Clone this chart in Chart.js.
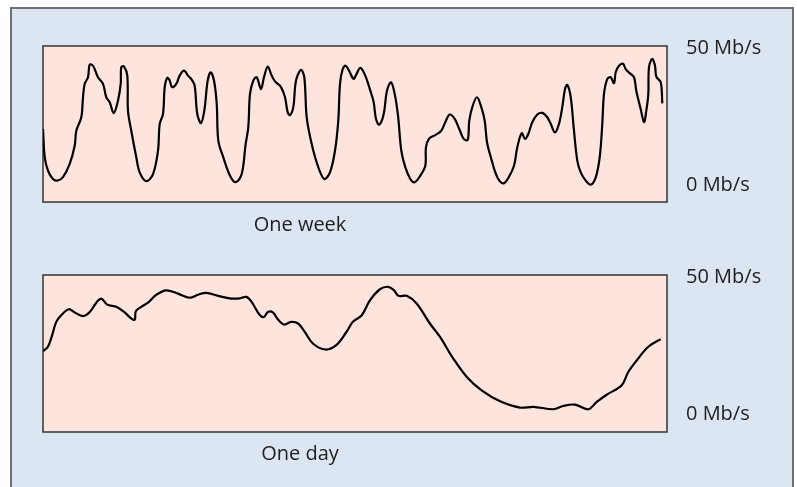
<!DOCTYPE html>
<html>
<head>
<meta charset="utf-8">
<script src="https://cdn.jsdelivr.net/npm/chart.js@4"></script>
<style>
  body { margin: 0; background: #fff; width: 797px; height: 487px; overflow: hidden; position: relative; font-family: 'Open Sans', sans-serif; }
  #marco { position: absolute; left: 10px; top: 7px; width: 784px; height: 500px; box-sizing: border-box; background: #dce6f2; border: 2px solid #6f6f6f; }
  canvas { position: absolute; left: 0; }
  #weekChart { top: 0; }
  #dayChart { top: 229px; }
  .caption { position: absolute; left: 200px; width: 200px; text-align: center; font-size: 20px; line-height: 24px; color: #1e1e1e; }
</style>
</head>
<body>
<div id="marco"></div>
<canvas id="weekChart" width="797" height="215"></canvas>
<canvas id="dayChart" width="797" height="215"></canvas>
<div class="caption" style="top:212px">One week</div>
<div class="caption" style="top:441px">One day</div>
<script>
// Tráfico de una semana (horas desde el inicio, Mb/s)
const weekHours = [0, 0.46, 1.35, 2.69, 3.85, 5.38, 7.19, 8.53, 8.97, 10.31, 10.77, 11.23, 12.12, 12.57, 13.46, 14.81, 16.15, 17.04, 17.96, 19.03,
    20.19, 20.92, 21.08, 21.81, 22.70, 22.88, 23.77, 25.12, 26.03, 27.81, 29.62, 30.96, 31.42, 32.31, 32.77, 33.46, 34.11, 34.73, 35.89, 36.80,
    37.96, 39.04, 40.11, 40.84, 41.54, 42.54, 43.43, 44.34, 45.15, 46.04, 46.77, 47.20, 48.54, 50.35, 51.88, 53.50, 54.57, 55.27, 55.73, 56.62,
    57.53, 58.69, 59.50, 60.50, 61.57, 62.46, 64.08, 65.15, 65.88, 66.50, 67.39, 68.12, 69.46, 70.35, 71.00, 72.34, 74.12, 75.73, 77.27, 78.61,
    79.50, 79.96, 80.69, 81.50, 82.38, 83.60, 84.27, 85.43, 86.77, 88.12, 89.03, 89.65, 90.54, 91.73, 92.61, 93.69, 94.69, 95.58, 96.47, 97.54,
    98.89, 100.07, 101.58, 102.93, 103.11, 104.00, 105.62, 107.23, 108.31, 109.50, 110.84, 112.08, 113.27, 114.34, 114.77, 115.69, 116.85, 118.00, 118.92, 119.54,
    120.70, 121.77, 122.85, 124.03, 125.38, 126.81, 127.70, 128.88, 129.77, 130.66, 131.73, 133.08, 134.43, 135.77, 136.69, 137.84, 138.92, 139.81, 140.54, 141.16,
    142.08, 142.96, 143.85, 144.77, 146.11, 147.46, 148.81, 149.88, 150.58, 151.04, 151.93, 152.84, 153.73, 154.19, 155.08, 156.15, 156.88, 157.96, 159.12, 159.73,
    160.92, 161.81, 162.43, 162.97, 163.15, 164.04, 164.77, 165.12, 166.31, 166.74];
const weekRate = [20.4, 10.2, 5.2, 2.2, 1.6, 2.9, 7.7, 14.3, 19.8, 24.7, 32.0, 36.9, 39.3, 43.9, 43.5, 39.3, 36.9, 32.0, 30.2, 26.2,
    30.8, 36.9, 43.0, 43.2, 39.9, 27.1, 19.8, 10.1, 4.6, 1.4, 4.0, 12.5, 22.3, 25.9, 35.7, 39.1, 38.1, 35.7, 36.9, 39.9,
    41.7, 39.9, 38.3, 36.2, 25.9, 22.6, 27.1, 38.1, 41.1, 38.1, 29.6, 16.2, 10.1, 3.4, 1.0, 4.0, 15.0, 21.1, 33.2, 38.1,
    39.3, 35.0, 39.3, 43.2, 39.9, 37.8, 35.7, 32.0, 26.5, 25.5, 28.4, 38.1, 42.0, 39.3, 24.7, 15.0, 6.5, 2.2, 4.6, 12.5,
    23.5, 36.9, 42.3, 43.5, 41.7, 38.7, 40.1, 42.7, 39.9, 34.4, 30.2, 24.1, 22.0, 25.9, 34.4, 37.5, 33.2, 25.3, 12.5, 6.5,
    2.2, 1.0, 3.4, 7.0, 13.8, 17.0, 18.2, 19.8, 22.9, 25.7, 24.1, 20.4, 16.8, 16.4, 23.5, 28.9, 32.0, 28.4, 23.5, 15.6,
    9.5, 4.6, 1.6, 0.6, 2.8, 7.0, 13.8, 18.9, 16.8, 18.6, 22.9, 25.7, 26.3, 24.7, 22.3, 19.2, 22.3, 28.4, 35.0, 36.5,
    32.0, 19.8, 8.9, 4.6, 1.6, 0.1, 2.8, 10.1, 22.3, 33.2, 38.7, 39.3, 37.1, 41.1, 43.5, 44.2, 42.3, 40.8, 39.3, 34.4,
    27.7, 22.9, 27.1, 33.2, 43.0, 46.0, 43.5, 39.5, 37.5, 29.8];

// Tráfico de un día
const dayHours = [0, 0.19, 0.35, 0.51, 0.70, 0.99, 1.22, 1.54, 1.80, 2.05, 2.24, 2.47, 2.82, 3.12, 3.40, 3.53, 3.57, 3.78, 4.04, 4.36,
    4.74, 5.19, 5.64, 5.96, 6.28, 6.73, 7.24, 7.57, 7.82, 8.01, 8.33, 8.50, 8.65, 8.85, 9.01, 9.27, 9.55, 9.81, 10.07, 10.38,
    10.86, 11.28, 11.67, 11.92, 12.26, 12.58, 12.96, 13.28, 13.50, 13.67, 13.99, 14.37, 14.88, 15.27, 15.78, 16.30, 16.87, 17.58, 18.35, 18.86,
    19.63, 20.01, 20.46, 20.97, 21.30, 21.68, 22.26, 22.51, 22.84, 23.28, 23.76];
const dayRate = [22.9, 24.5, 28.7, 33.6, 36.0, 38.2, 37.0, 35.7, 37.2, 40.6, 42.1, 39.9, 39.1, 37.2, 34.8, 34.4, 37.5, 39.1, 40.6, 43.5,
    45.1, 43.9, 42.4, 43.5, 44.2, 43.1, 42.1, 42.2, 42.7, 41.1, 36.2, 35.4, 37.2, 37.0, 34.8, 32.6, 33.6, 33.0, 29.9, 25.7,
    23.5, 25.1, 29.9, 33.6, 36.0, 41.5, 45.5, 46.4, 45.1, 43.1, 43.1, 40.3, 33.0, 28.1, 20.2, 13.5, 8.6, 4.6, 2.3, 2.6,
    1.7, 2.9, 3.4, 1.7, 4.4, 7.0, 10.5, 15.3, 19.6, 24.5, 27.3];

const rateTicks = [0, 50]; // marcas del eje derecho

// Fondo rosa y marco del área del gráfico
const panelPlugin = {
    id: 'panel',
    beforeDraw(chart) {
        const { ctx, chartArea: a } = chart;
        ctx.save();
        ctx.fillStyle = '#fde4dc';
        ctx.fillRect(a.left, a.top, a.right - a.left, a.bottom - a.top);
        ctx.restore();
    },
    beforeDatasetsDraw(chart) {
        const { ctx, chartArea: a } = chart;
        ctx.save();
        ctx.strokeStyle = '#333';
        ctx.lineWidth = 1.5;
        ctx.strokeRect(a.left, a.top, a.right - a.left, a.bottom - a.top);
        ctx.restore();
    }
};

Chart.defaults.font.family = "'Open Sans', sans-serif";
Chart.defaults.font.size = 20;
Chart.defaults.color = '#1e1e1e';

function crearGrafico(id, horas, valores, maxHoras, padding, yMin) {
    const puntos = horas.map((h, i) => ({ x: h, y: valores[i] }));
    return new Chart(document.getElementById(id), {
        type: 'line',
        data: {
            datasets: [{
                data: puntos,
                borderColor: '#000',
                borderWidth: 2.2,
                pointRadius: 0,
                tension: 0.35,
                fill: false
            }]
        },
        options: {
            responsive: false,
            animation: false,
            layout: { padding: padding },
            plugins: { legend: { display: false }, tooltip: { enabled: false } },
            scales: {
                x: { type: 'linear', min: 0, max: maxHoras, display: false },
                y: {
                    position: 'right',
                    min: yMin,
                    max: 50.7,
                    grid: { display: false, drawTicks: false },
                    border: { display: false },
                    afterBuildTicks: function(scale) {
                        scale.ticks = rateTicks.map(v => ({ value: v }));
                    },
                    afterFit: function(scale) {
                        scale.width = 130;
                        scale.paddingTop = 0; // sin margen extra para las etiquetas
                        scale.paddingBottom = 0;
                    },
                    ticks: {
                        padding: 19,
                        callback: function(value) {
                            return value + ' Mb/s';
                        }
                    }
                }
            }
        },
        plugins: [panelPlugin]
    });
}

window.onload = function() {
    crearGrafico('weekChart', weekHours, weekRate, 168, { left: 43, top: 46, right: 0, bottom: 13 }, -6.2);
    crearGrafico('dayChart', dayHours, dayRate, 24, { left: 43, top: 46, right: 0, bottom: 12 }, -6.6);
};
</script>
</body>
</html>
